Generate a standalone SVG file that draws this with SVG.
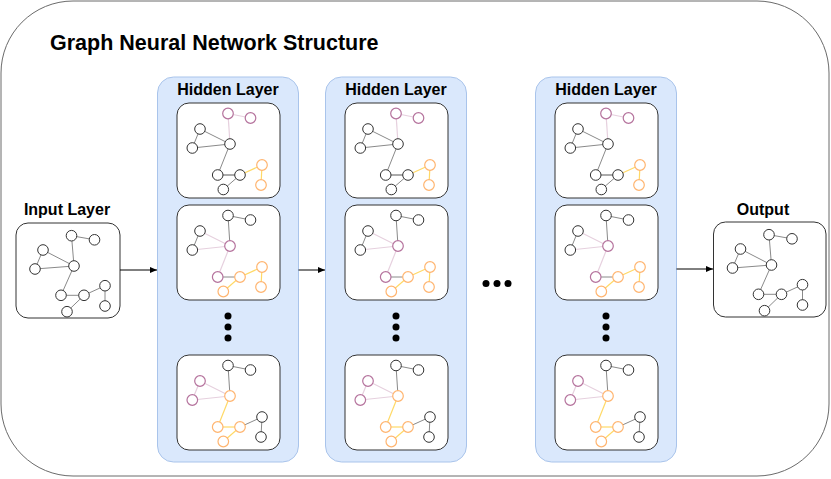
<svg xmlns="http://www.w3.org/2000/svg" xmlns:xlink="http://www.w3.org/1999/xlink" width="831" height="479" viewBox="0 0 831 479">
<style>
text{font-family:"Liberation Sans",Arial,sans-serif;font-weight:bold;fill:#000}
.title{font-size:21.5px}
.lbl{font-size:16px;text-anchor:middle}
.frame{fill:#fff;stroke:#6b6b6b;stroke-width:1}
.panel{fill:#dae8fc;stroke:#a9c4eb;stroke-width:1}
.card{fill:#fff;stroke:#333;stroke-width:1}
.n{fill:#fff;stroke:#333;stroke-width:1}
.np{fill:#fff;stroke:#b5739d;stroke-width:1.2}
.no{fill:#fff;stroke:#ffb570;stroke-width:1.2}
.e{stroke:#8a8a8a;stroke-width:1;fill:none}
.ep{stroke:#e6d0de;stroke-width:1.2;fill:none}
.eo{stroke:#ffd966;stroke-width:1.2;fill:none}
.dot{fill:#000}
.conn{stroke:#000;stroke-width:1;fill:none}
</style>
<defs>
<marker id="arr" markerWidth="8" markerHeight="8" refX="7" refY="4" orient="auto" markerUnits="userSpaceOnUse">
<path d="M0,1 L7,4 L0,7 Z" fill="#000"/>
</marker>
<!-- plain graph (input / output) -->
<g id="gplain">
<line class="e" x1="55.5" y1="12.7" x2="78.5" y2="16.8"/>
<line class="e" x1="55.5" y1="12.7" x2="58" y2="43"/>
<line class="e" x1="27" y1="27" x2="19" y2="46"/>
<line class="e" x1="27" y1="27" x2="58" y2="43"/>
<line class="e" x1="19" y1="46" x2="58" y2="43"/>
<line class="e" x1="58" y1="43" x2="45" y2="72.3"/>
<line class="e" x1="45" y1="72.3" x2="68" y2="72.3"/>
<line class="e" x1="68" y1="72.3" x2="51" y2="88.7"/>
<line class="e" x1="68" y1="72.3" x2="89" y2="62.7"/>
<line class="e" x1="89" y1="62.7" x2="89" y2="83"/>
<circle class="n" cx="55.5" cy="12.7" r="5.3"/>
<circle class="n" cx="78.5" cy="16.8" r="5.3"/>
<circle class="n" cx="27" cy="27" r="5.3"/>
<circle class="n" cx="19" cy="46" r="5.3"/>
<circle class="n" cx="58" cy="43" r="5.3"/>
<circle class="n" cx="45" cy="72.3" r="5.3"/>
<circle class="n" cx="68" cy="72.3" r="5.3"/>
<circle class="n" cx="51" cy="88.7" r="5.3"/>
<circle class="n" cx="89" cy="62.7" r="5.3"/>
<circle class="n" cx="89" cy="83" r="5.3"/>
</g>
<!-- card graph 1 -->
<g id="g1">
<line class="ep" x1="51" y1="10.5" x2="73.5" y2="15"/>
<line class="ep" x1="51" y1="10.5" x2="53" y2="41"/>
<line class="e" x1="23" y1="26" x2="15.3" y2="45"/>
<line class="e" x1="23" y1="26" x2="53" y2="41"/>
<line class="e" x1="15.3" y1="45" x2="53" y2="41"/>
<line class="e" x1="53" y1="41" x2="40.7" y2="72"/>
<line class="e" x1="40.7" y1="72" x2="63" y2="72" style="stroke:#aaa;stroke-width:2"/>
<line class="e" x1="63" y1="72" x2="46.3" y2="86.5"/>
<line class="eo" x1="63" y1="72" x2="85" y2="62"/>
<line class="eo" x1="85" y1="62" x2="84" y2="82"/>
<circle class="np" cx="51" cy="10.5" r="5.3"/>
<circle class="np" cx="73.5" cy="15" r="5.3"/>
<circle class="n" cx="23" cy="26" r="5.3"/>
<circle class="n" cx="15.3" cy="45" r="5.3"/>
<circle class="n" cx="53" cy="41" r="5.3"/>
<circle class="n" cx="40.7" cy="72" r="5.3"/>
<circle class="n" cx="63" cy="72" r="5.3"/>
<circle class="n" cx="46.3" cy="86.5" r="5.3"/>
<circle class="no" cx="85" cy="62" r="5.3"/>
<circle class="no" cx="84" cy="82" r="5.3"/>
</g>
<!-- card graph 2 -->
<g id="g2">
<line class="e" x1="51" y1="10.5" x2="73.5" y2="15"/>
<line class="e" x1="51" y1="10.5" x2="53" y2="41"/>
<line class="e" x1="23" y1="26" x2="15.3" y2="45"/>
<line class="ep" x1="23" y1="26" x2="53" y2="41"/>
<line class="ep" x1="15.3" y1="45" x2="53" y2="41"/>
<line class="ep" x1="53" y1="41" x2="40.7" y2="72"/>
<line class="e" x1="40.7" y1="72" x2="63" y2="72"/>
<line class="eo" x1="63" y1="72" x2="46.3" y2="86.5"/>
<line class="eo" x1="63" y1="72" x2="85" y2="62"/>
<line class="eo" x1="85" y1="62" x2="84" y2="82"/>
<circle class="n" cx="51" cy="10.5" r="5.3"/>
<circle class="n" cx="73.5" cy="15" r="5.3"/>
<circle class="n" cx="23" cy="26" r="5.3"/>
<circle class="n" cx="15.3" cy="45" r="5.3"/>
<circle class="np" cx="53" cy="41" r="5.3"/>
<circle class="np" cx="40.7" cy="72" r="5.3"/>
<circle class="no" cx="63" cy="72" r="5.3"/>
<circle class="no" cx="46.3" cy="86.5" r="5.3"/>
<circle class="no" cx="85" cy="62" r="5.3"/>
<circle class="no" cx="84" cy="82" r="5.3"/>
</g>
<!-- card graph 3 -->
<g id="g3">
<line class="e" x1="51" y1="10.5" x2="73.5" y2="15"/>
<line class="e" x1="51" y1="10.5" x2="53" y2="41"/>
<line class="ep" x1="23" y1="26" x2="15.3" y2="45"/>
<line class="ep" x1="23" y1="26" x2="53" y2="41"/>
<line class="ep" x1="15.3" y1="45" x2="53" y2="41"/>
<line class="eo" x1="53" y1="41" x2="40.7" y2="72"/>
<line class="eo" x1="40.7" y1="72" x2="63" y2="72"/>
<line class="eo" x1="63" y1="72" x2="46.3" y2="86.5"/>
<line class="e" x1="63" y1="72" x2="85" y2="62"/>
<line class="e" x1="85" y1="62" x2="84" y2="82"/>
<circle class="n" cx="51" cy="10.5" r="5.3"/>
<circle class="n" cx="73.5" cy="15" r="5.3"/>
<circle class="np" cx="23" cy="26" r="5.3"/>
<circle class="np" cx="15.3" cy="45" r="5.3"/>
<circle class="no" cx="53" cy="41" r="5.3"/>
<circle class="no" cx="40.7" cy="72" r="5.3"/>
<circle class="no" cx="63" cy="72" r="5.3"/>
<circle class="no" cx="46.3" cy="86.5" r="5.3"/>
<circle class="n" cx="85" cy="62" r="5.3"/>
<circle class="n" cx="84" cy="82" r="5.3"/>
</g>
<g id="vdots">
<circle class="dot" cx="0" cy="0" r="3.5"/>
<circle class="dot" cx="0" cy="11" r="3.5"/>
<circle class="dot" cx="0" cy="22" r="3.5"/>
</g>
<g id="panelbody">
<rect class="panel" x="0" y="0" width="141" height="385" rx="16"/>
<text class="lbl" x="70.5" y="18">Hidden Layer</text>
<rect class="card" x="19.5" y="26" width="103" height="95" rx="12"/>
<use xlink:href="#g1" x="19.5" y="26"/>
<rect class="card" x="19.5" y="128" width="103" height="95" rx="12"/>
<use xlink:href="#g2" x="19.5" y="128"/>
<use xlink:href="#vdots" x="70.5" y="239"/>
<rect class="card" x="19.5" y="278" width="103" height="95" rx="12"/>
<use xlink:href="#g3" x="19.5" y="278"/>
</g>
</defs>

<g id="frame">
<rect class="frame" x="1" y="1" width="828" height="475" rx="72"/>
<text class="title" x="50" y="50">Graph Neural Network Structure</text>
</g>

<g id="input-layer">
<text class="lbl" x="67" y="215">Input Layer</text>
<rect class="card" x="16" y="223" width="104" height="95" rx="12"/>
<use xlink:href="#gplain" x="16" y="223"/>
</g>

<g id="hidden-layer-1">
<use xlink:href="#panelbody" x="157.5" y="77"/>
</g>
<g id="hidden-layer-2">
<use xlink:href="#panelbody" x="325.5" y="77"/>
</g>
<g id="hidden-layer-3">
<use xlink:href="#panelbody" x="535.5" y="77"/>
</g>

<g id="ellipsis">
<circle class="dot" cx="486" cy="283.5" r="3.5"/>
<circle class="dot" cx="497" cy="283.5" r="3.5"/>
<circle class="dot" cx="508" cy="283.5" r="3.5"/>
</g>

<g id="output-layer">
<text class="lbl" x="763" y="215">Output</text>
<rect class="card" x="713.5" y="222" width="112.5" height="95" rx="12"/>
<use xlink:href="#gplain" x="713.5" y="222"/>
</g>

<g id="connectors">
<path class="conn" d="M120,270 L157,270" marker-end="url(#arr)"/>
<path class="conn" d="M298.5,270 L325,270" marker-end="url(#arr)"/>
<path class="conn" d="M676.5,269 L713,269" marker-end="url(#arr)"/>
</g>
</svg>
